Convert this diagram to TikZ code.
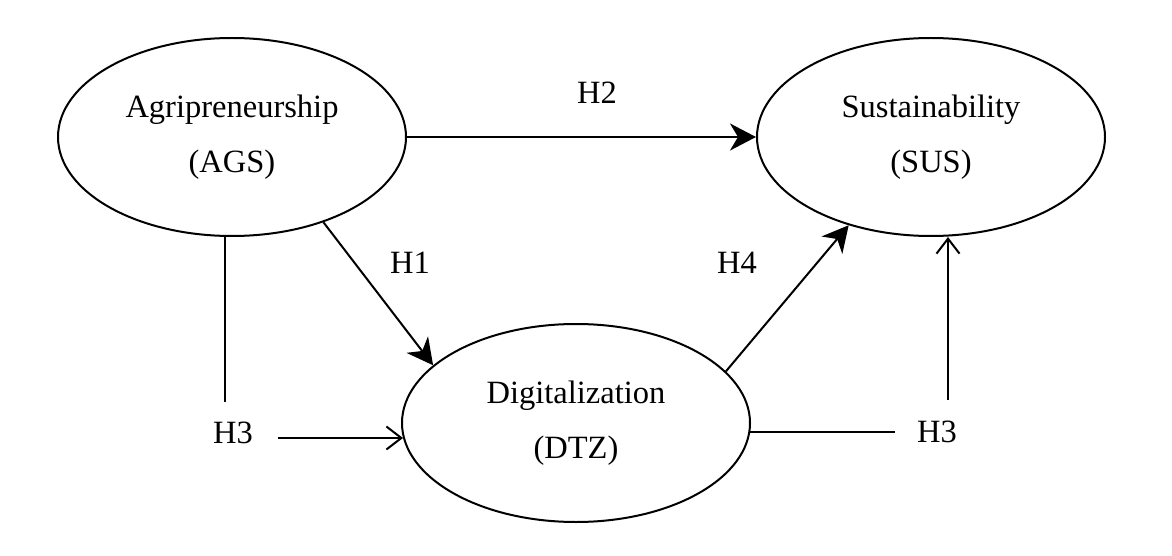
\documentclass[tikz,border=0pt]{standalone}
\usepackage{fontspec}
\setmainfont{Liberation Serif}
\usepackage{tikz}
\usetikzlibrary{arrows.meta,positioning,shapes.geometric,calc}

\begin{document}
\begin{tikzpicture}[x=1pt, y=-1pt,
			construct/.style={ellipse, draw=black, line width=2pt, minimum width=348pt, minimum height=198pt, align=center, font=\fontsize{32.5}{55}\selectfont},
			hyp/.style={font=\fontsize{32.5}{38}\selectfont},
			arrow/.style={-{Stealth[length=26pt, width=27pt, inset=8pt]}, line width=2pt},
			openarrow/.style={-{Straight Barb[length=15pt, width=23pt, line width=2pt]}, line width=2pt},
			plain/.style={line width=2pt},
			]
			\useasboundingbox (0,0) rectangle (1172,556);
			% Constructs
			\node[construct] (ags) at (232,137) {Agripreneurship\\(AGS)};
			\node[construct] (sus) at (931,137) {Sustainability\\(SUS)};
			\node[construct] (dtz) at (576,423) {Digitalization\\(DTZ)};
			
			% Hypothesis labels
			\node[hyp] (h2) at (597,93) {H2};
			\node[hyp] (h1) at (410,263) {H1};
			\node[hyp] (h4) at (737,263) {H4};
			\node[hyp] (h3l) at (233,433) {H3};
			\node[hyp] (h3r) at (937,432) {H3};
			
			% Free ends of the H3 lines
			\coordinate (h3a) at (225,402);
			\coordinate (h3b) at (278,438);
			\coordinate (h3c) at (895,433);
			\coordinate (h3d) at (948,400);
			
			% Direct paths
			\draw[arrow] (ags.east) -- (sus.west);
			\draw[arrow] (ags.-43) -- (dtz.158);
			\draw[arrow] (dtz.19) -- (sus.-133);
			
			% Moderating paths (H3)
			\draw[plain] (ags.south -| h3a) -- (h3a);
			\draw[openarrow] (h3b) -- (h3b -| dtz.185);
			\draw[plain] (dtz.-3) -- (dtz.-3 -| h3c);
			\draw[openarrow] (h3d) -- (sus.south -| h3d);
		\end{tikzpicture}
\end{document}
